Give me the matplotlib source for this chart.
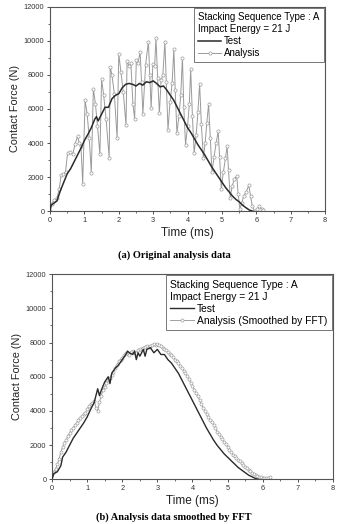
import numpy as np
import matplotlib
matplotlib.use('Agg')
import matplotlib.pyplot as plt
from matplotlib.ticker import MultipleLocator

plt.rcParams['font.family'] = ['Liberation Sans', 'DejaVu Sans']

# ── (a) 원본 해석 데이터 ─────────────────────────────
t_test_a = [0.0, 0.03, 0.1, 0.2, 0.3, 0.4, 0.5, 0.6, 0.7, 0.8, 0.9, 1.0, 1.1, 1.2, 1.3, 1.35,
            1.4, 1.5, 1.6, 1.7, 1.8, 1.9, 2.0, 2.1, 2.2, 2.3, 2.4, 2.5, 2.6, 2.7, 2.8, 2.9,
            3.0, 3.1, 3.2, 3.3, 3.4, 3.5, 3.6, 3.7, 3.8, 3.9, 4.0, 4.1, 4.2, 4.3, 4.4, 4.5,
            4.6, 4.7, 4.8, 4.9, 5.0, 5.1, 5.2, 5.3, 5.4, 5.5, 5.6, 5.7, 5.8, 5.9]
f_test_a = [0, 350, 450, 600, 1200, 1700, 2200, 2500, 2900, 3300, 3700, 4150, 4500, 4900, 5400, 5550,
            5300, 5700, 6100, 6100, 6600, 6800, 6900, 7250, 7450, 7500, 7450, 7350, 7500, 7400, 7600, 7550,
            7650, 7500, 7300, 7350, 7100, 6800, 6500, 6100, 5700, 5300, 4900, 4600, 4250, 3900, 3600, 3300,
            2950, 2600, 2300, 2000, 1700, 1400, 1150, 900, 700, 550, 350, 200, 60, 0]

t_ana_a = [0.0, 0.05, 0.13, 0.2, 0.27, 0.32, 0.39, 0.45, 0.51, 0.58, 0.66, 0.73, 0.8, 0.85, 0.9, 0.95,
           1.02, 1.08, 1.14, 1.2, 1.26, 1.32, 1.38, 1.45, 1.5, 1.56, 1.63, 1.72,
           1.75, 1.8, 1.87, 1.95, 2.0, 2.06, 2.13, 2.21,
           2.24, 2.3, 2.35, 2.41, 2.46, 2.51, 2.56, 2.62, 2.66, 2.7,
           2.78, 2.86, 2.9, 2.94, 2.99, 3.04, 3.08, 3.13, 3.18,
           3.23, 3.28, 3.34, 3.38, 3.43, 3.49, 3.55, 3.6, 3.64, 3.69,
           3.75, 3.8, 3.85, 3.89, 3.94, 4.0, 4.05, 4.09, 4.14, 4.19,
           4.25, 4.3, 4.35, 4.4, 4.46, 4.51, 4.56, 4.61, 4.66, 4.71,
           4.77, 4.83, 4.89, 4.93, 4.98, 5.04, 5.1, 5.15, 5.19, 5.24,
           5.3, 5.36, 5.43, 5.47, 5.52, 5.58, 5.63, 5.7, 5.78, 5.83, 5.88, 5.95,
           6.02, 6.09, 6.15, 6.2]
f_ana_a = [0, 450, 650, 750, 1330, 2100, 2200, 2300, 3400, 3450, 3350, 3950, 4400, 4000, 3800, 1620,
           6500, 5700, 4300, 2270, 7200, 6300, 5000, 3330, 7750, 6800, 5400, 3130,
           8470, 8000, 6900, 4300, 9220, 8200, 7000, 5050,
           8830, 8500, 8700, 6300, 5440, 8860, 8700, 9350, 7600, 5710,
           8600, 9940, 8000, 6030, 8630, 8500, 10140, 7800, 5750,
           7700, 8000, 9940, 7600, 4790, 6400, 7500, 9510, 7100, 4600,
           5600, 6800, 9000, 6100, 3900, 5000, 6300, 8320, 5600, 3400,
           4500, 5800, 7480, 5100, 3100, 4000, 5200, 6280, 4300, 2300,
           3200, 4000, 4680, 3200, 1300, 2300, 3100, 3820, 2400, 800,
           1500, 1900, 2050, 1000, 150, 500, 900, 1100, 1530, 900, 300, 0,
           100, 300, 100, 50]

# ── (b) FFT 평활화 데이터 ────────────────────────────
t_test_b = [0.0, 0.05, 0.15, 0.25, 0.3, 0.4, 0.5, 0.6, 0.7, 0.8, 0.9, 1.0, 1.1, 1.2, 1.3, 1.35,
            1.4, 1.5, 1.6, 1.65, 1.7, 1.8, 1.9, 2.0, 2.1, 2.15, 2.2, 2.3, 2.35, 2.4, 2.45, 2.5,
            2.6, 2.65, 2.7, 2.8, 2.9, 3.0, 3.1, 3.2, 3.3, 3.4, 3.5, 3.6, 3.7, 3.8, 3.9, 4.0,
            4.1, 4.2, 4.3, 4.4, 4.5, 4.6, 4.7, 4.8, 4.9, 5.0, 5.1, 5.2, 5.3, 5.4, 5.5, 5.6,
            5.7, 5.8, 5.9]
f_test_b = [0, 350, 450, 800, 1300, 1600, 2000, 2400, 2700, 3000, 3300, 3650, 4100, 4500, 5300, 4900,
            5200, 5700, 6000, 5600, 6200, 6500, 6700, 7000, 7300, 7500, 7400, 7300, 7500, 7000, 7400, 7200,
            7600, 7200, 7600, 7700, 7400, 7600, 7300, 7300, 7000, 6800, 6500, 6200, 5800, 5400, 5000, 4600,
            4200, 3800, 3400, 3000, 2650, 2300, 2000, 1750, 1500, 1300, 1100, 900, 700, 550, 400, 250,
            150, 50, 0]

t_ana_b = [0.0, 0.05, 0.1, 0.15, 0.2, 0.25, 0.3, 0.35, 0.4, 0.45, 0.5, 0.55, 0.6, 0.65, 0.7, 0.75,
           0.8, 0.85, 0.9, 0.95, 1.0, 1.05, 1.1, 1.15, 1.2, 1.25, 1.3, 1.35, 1.4, 1.45, 1.5, 1.55,
           1.6, 1.65, 1.7, 1.75, 1.8, 1.85, 1.9, 1.95, 2.0, 2.05, 2.1, 2.15, 2.2, 2.25, 2.3, 2.35,
           2.4, 2.45, 2.5, 2.55, 2.6, 2.65, 2.7, 2.75, 2.8, 2.85, 2.9, 2.95, 3.0, 3.05, 3.1, 3.15,
           3.2, 3.25, 3.3, 3.35, 3.4, 3.45, 3.5, 3.55, 3.6, 3.65, 3.7, 3.75, 3.8, 3.85, 3.9, 3.95,
           4.0, 4.05, 4.1, 4.15, 4.2, 4.25, 4.3, 4.35, 4.4, 4.45, 4.5, 4.55, 4.6, 4.65, 4.7, 4.75,
           4.8, 4.85, 4.9, 4.95, 5.0, 5.05, 5.1, 5.15, 5.2, 5.25, 5.3, 5.35, 5.4, 5.45, 5.5, 5.55,
           5.6, 5.65, 5.7, 5.75, 5.8, 5.85, 5.9, 5.95, 6.0, 6.05, 6.1, 6.15, 6.2]
f_ana_b = [300, 450, 600, 900, 1200, 1600, 1900, 2150, 2300, 2550, 2700, 2900, 3000, 3200, 3300, 3500,
           3600, 3700, 3800, 3900, 4100, 4300, 4400, 4450, 4600, 4200, 4000, 4500, 4900, 5200, 5400, 5650,
           5800, 5950, 6100, 6300, 6500, 6700, 6900, 7000, 7100, 7250, 7400, 7350, 7300, 7450, 7500, 7400,
           7400, 7550, 7600, 7650, 7700, 7750, 7800, 7750, 7800, 7850, 7900, 7850, 7900, 7850, 7800, 7700,
           7650, 7550, 7450, 7350, 7250, 7150, 7000, 6900, 6800, 6650, 6500, 6350, 6200, 6050, 5850, 5650,
           5450, 5250, 5050, 4850, 4650, 4400, 4200, 4000, 3800, 3650, 3450, 3350, 3200, 3000, 2800, 2650,
           2500, 2350, 2200, 2050, 1900, 1750, 1600, 1450, 1350, 1250, 1150, 1050, 950, 850, 750, 650,
           550, 500, 400, 320, 250, 200, 150, 120, 100, 80, 80, 100, 150]

legend_title = "Stacking Sequence Type : A\nImpact Energy = 21 J"
x_ticks = [0, 1, 2, 3, 4, 5, 6, 7, 8]
y_ticks = [0, 2000, 4000, 6000, 8000, 10000, 12000]

# ── 시각화 ──────────────────────────────────────────
fig = plt.figure(figsize=(3.38, 5.24), dpi=100)
ax_a = fig.add_axes([0.148, 0.597, 0.814, 0.390])
ax_b = fig.add_axes([0.154, 0.085, 0.831, 0.392])

def style_axes(ax):
    ax.set_xlim(0, 8)
    ax.set_ylim(0, 12000)
    ax.set_xticks(x_ticks)
    ax.set_yticks(y_ticks)
    ax.xaxis.set_minor_locator(MultipleLocator(0.5))
    ax.yaxis.set_minor_locator(MultipleLocator(1000))
    ax.tick_params(which="major", direction="out", length=2.5, width=0.6,
                   labelsize=5.3, colors="#333333", pad=1.5)
    ax.tick_params(which="minor", direction="out", length=1.5, width=0.5, colors="#333333")
    for s in ax.spines.values():
        s.set_color("#555555")
        s.set_linewidth(0.8)
    ax.set_xlabel("Time (ms)", fontsize=8.5, color="#222222", labelpad=2)
    ax.set_ylabel("Contact Force (N)", fontsize=7.8, color="#222222", labelpad=3)

def add_legend(ax, fs):
    h, l = ax.get_legend_handles_labels()
    leg = ax.legend(h[::-1], l[::-1], title=legend_title, alignment="left",
                    loc="upper right", fontsize=fs, title_fontsize=fs,
                    frameon=True, fancybox=False, framealpha=1, edgecolor="#777777",
                    borderaxespad=0.1, handlelength=2.3, handletextpad=0.3,
                    labelspacing=0.2, borderpad=0.45)
    leg.get_frame().set_linewidth(0.7)
    leg.get_title().set_linespacing(1.25)

# (a)
ax_a.plot(t_ana_a, f_ana_a, color="#9a9a9a", lw=0.7, marker="o", ms=2.3,
          mfc="white", mec="#9a9a9a", mew=0.5, label="Analysis", zorder=2)
ax_a.plot(t_test_a, f_test_a, color="#2a2a2a", lw=1.1, label="Test", zorder=3)
style_axes(ax_a)
add_legend(ax_a, 7.0)

# (b)
ax_b.plot(t_ana_b, f_ana_b, color="#a0a0a0", lw=0.7, marker="o", ms=2.2,
          mfc="white", mec="#a0a0a0", mew=0.5, label="Analysis (Smoothed by FFT)", zorder=2)
ax_b.plot(t_test_b, f_test_b, color="#2a2a2a", lw=1.0, label="Test", zorder=3)
style_axes(ax_b)
add_legend(ax_b, 7.4)

# ── 캡션 ────────────────────────────────────────────
fig.text(0.515, 0.513, "(a) Original analysis data", ha="center", va="center",
         fontsize=7.5, fontweight="bold", family="Liberation Serif")
fig.text(0.515, 0.013, "(b) Analysis data smoothed by FFT", ha="center", va="center",
         fontsize=7.5, fontweight="bold", family="Liberation Serif")

fig.savefig("out.png", dpi=100)
